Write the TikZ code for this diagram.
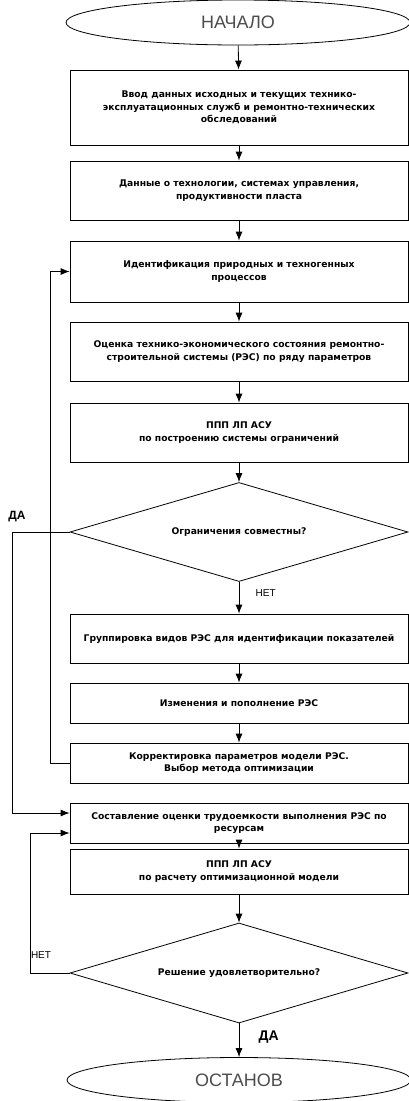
\documentclass[tikz,border=0pt]{standalone}
\usepackage{fontspec}
\setmainfont{Liberation Sans}
\newfontfamily\boxfont{DejaVu Sans}
\usetikzlibrary{shapes.geometric,arrows.meta}
\begin{document}
\begin{tikzpicture}[x=1pt,y=-1pt,
  box/.style={draw, line width=0.8pt, minimum width=338pt, align=center,
    font=\boxfont\bfseries\fontsize{9.2}{12.5}\selectfont, inner sep=0pt},
  dec/.style={draw, line width=0.8pt, shape=diamond, aspect=3.4, minimum width=338pt, inner sep=0pt,
    font=\boxfont\bfseries\fontsize{9.2}{11}\selectfont},
  term/.style={draw, line width=0.8pt, shape=ellipse, minimum width=344pt, minimum height=45pt,
    inner sep=0pt, text=black!70, font=\fontsize{18}{20}\selectfont},
  arr/.style={-{Latex[length=9pt,width=7pt]}, line width=0.8pt},
  yes/.style={font=\bfseries\fontsize{12}{13}\selectfont},
  yesbig/.style={font=\bfseries\fontsize{14}{15}\selectfont},
  no/.style={font=\fontsize{10}{12}\selectfont}]
\useasboundingbox (0,0) rectangle (409,1101);
\node[term] (start) at (238,22.5) {НАЧАЛО};
\node[box, minimum height=75pt] (b1) at (239,107.5) {Ввод данных исходных и текущих технико-\\эксплуатационных служб и ремонтно-технических\\обследований};
\node[box, minimum height=59pt] (b2) at (239,190.5) {Данные о технологии, системах управления,\\продуктивности пласта};
\node[box, minimum height=61pt] (b3) at (239,271.5) {Идентификация природных и техногенных\\процессов};
\node[box, minimum height=59pt] (b4) at (239,351.5) {Оценка технико-экономического состояния ремонтно-\\строительной системы (РЭС) по ряду параметров};
\node[box, minimum height=59pt] (b5) at (239,432.5) {ППП ЛП АСУ\\по построению системы ограничений};
\node[dec, minimum height=99pt] (d1) at (239,532) {Ограничения совместны?};
\node[box, minimum height=49pt] (b6) at (239,638.5) {Группировка видов РЭС для идентификации показателей};
\node[box, minimum height=40pt] (b7) at (239,703) {Изменения и пополнение РЭС};
\node[box, minimum height=40pt] (b8) at (239,763) {Корректировка параметров модели РЭС.\\Выбор метода оптимизации};
\node[box, minimum height=40pt] (b9) at (239,823) {Составление оценки трудоемкости выполнения РЭС по\\ресурсам};
\node[box, minimum height=45pt] (b10) at (239,871.5) {ППП ЛП АСУ\\по расчету оптимизационной модели};
\node[dec, minimum height=100pt] (d2) at (239,973) {Решение удовлетворительно?};
\node[term] (stop) at (239,1080) {ОСТАНОВ};

\draw[arr] (start) -- (b1);
\draw[arr] (b1) -- (b2);
\draw[arr] (b2) -- (b3);
\draw[arr] (b3) -- (b4);
\draw[arr] (b4) -- (b5);
\draw[arr] (b5) -- (d1);
\draw[arr] (d1) -- (b6) node[no, pos=0.35, right=13pt] (n1) {НЕТ};
\draw[arr] (b6) -- (b7);
\draw[arr] (b7) -- (b8);
\draw[arr] (b9) -- (b10);
\draw[arr] (b10) -- (d2);
\draw[arr] (d2) -- (stop) node[yesbig, pos=0.42, right=16pt] (y2) {ДА};

\coordinate (c1) at (50,763);
\draw[arr] (b8.west) -- (c1) |- (b3.west);

\coordinate (c2) at (12,532);
\coordinate (c3) at (12,813);
\draw[arr] (d1.west) -- (c2) -- (c3) -- (b9.west |- c3);
\node[yes] (y1) at (17,517) {ДА};

\coordinate (c4) at (30,973);
\coordinate (c5) at (30,833);
\draw[arr] (d2.west) -- (c4) -- (c5) -- (b9.west |- c5);
\node[no] (n2) at (41,955) {НЕТ};
\end{tikzpicture}
\end{document}
